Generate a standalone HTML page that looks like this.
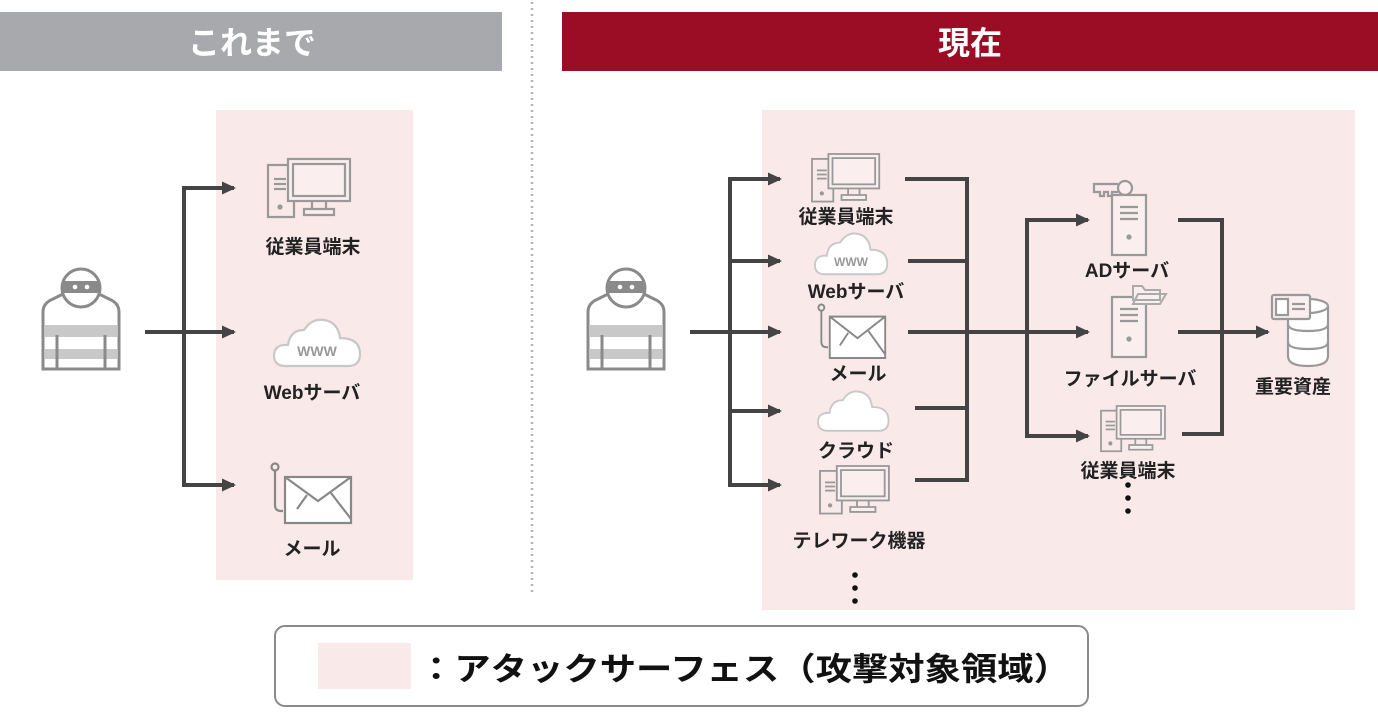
<!DOCTYPE html>
<html><head><meta charset="utf-8"><style>
html,body{margin:0;padding:0;background:#fff;}
svg{display:block;}
text{font-family:"Liberation Sans","Noto Sans CJK JP",sans-serif;font-weight:bold;}
</style></head><body>
<svg width="1378" height="713" viewBox="0 0 1378 713" xmlns="http://www.w3.org/2000/svg">
<defs>
<marker id="ah" markerWidth="16" markerHeight="16" refX="13" refY="8" orient="auto" markerUnits="userSpaceOnUse">
<path d="M1,1.5 L15,8 L1,14.5 Z" fill="#444"/></marker>
<g id="thief" fill="none" stroke="#8a8a8a" stroke-width="3">
<path d="M0,102 V45 Q0,36 10,32 L26,24 H50 L66,32 Q76,36 76,45 V102 Z" fill="#fff"/>
<rect x="2" y="58" width="72" height="12" fill="#c8c8c8" stroke="none"/>
<rect x="2" y="82" width="72" height="10" fill="#c8c8c8" stroke="none"/>
<line x1="14" y1="68" x2="14" y2="102"/><line x1="62" y1="68" x2="62" y2="102"/>
<circle cx="38" cy="21" r="19" fill="#fff"/>
<path d="M20,14 H56 V26 H20 Z" fill="#8a8a8a" stroke="none"/>
<circle cx="32" cy="20" r="2.3" fill="#fff" stroke="none"/><circle cx="44" cy="20" r="2.3" fill="#fff" stroke="none"/>
</g>
<g id="pc" fill="none" stroke="#999" stroke-width="2.2">
<rect x="0" y="6" width="26" height="52"/>
<line x1="6" y1="20" x2="18" y2="20"/><line x1="6" y1="25" x2="18" y2="25"/><line x1="6" y1="30" x2="18" y2="30"/>
<circle cx="12" cy="48" r="1.5" fill="#999"/>
<rect x="20" y="0" width="62" height="42" fill="#fbeeee"/>
<rect x="25" y="5" width="52" height="32"/>
<path d="M44,42 V50 M58,42 V50 M36,56 V50 H66 V56 Z" fill="#fbeeee"/>
</g>
<g id="cloud" fill="#fff" stroke="#c8c8c8" stroke-width="2.2">
<path d="M12,48 Q0,48 0,38 Q0,26 14,27 Q16,12 30,12 Q38,0 50,2 Q64,4 66,20 Q86,20 86,36 Q86,48 74,48 Z"/>
</g>
<g id="mail" fill="none" stroke="#888" stroke-width="2.2">
<circle cx="4" cy="4" r="3.5"/>
<path d="M4,8 V42 Q4,48 10,48 H12" />
<rect x="14" y="14" width="66" height="46" fill="#fff"/>
<path d="M14,14 L47,38 L80,14 M60,30 L80,56 M36,32 L26,46"/>
</g>
<g id="server" fill="none" stroke="#999" stroke-width="2.2">
<rect x="0" y="0" width="34" height="60" fill="#fbeeee"/>
<line x1="8" y1="12" x2="26" y2="12"/><line x1="8" y1="18" x2="26" y2="18"/><line x1="8" y1="24" x2="26" y2="24"/>
<circle cx="17" cy="42" r="1.5" fill="#999"/>
</g>
</defs>

<rect x="0" y="12" width="502" height="59" fill="#a7a9ac"/>
<text x="252" y="54" font-size="32" fill="#fff" text-anchor="middle">これまで</text>
<rect x="562" y="12" width="816" height="59" fill="#9b0d24"/>
<text x="970" y="54" font-size="32" fill="#fff" text-anchor="middle">現在</text>
<line x1="532" y1="2" x2="532" y2="592" stroke="#b5b5b5" stroke-width="2.5" stroke-dasharray="2,4"/>

<rect x="216" y="110" width="197" height="470" fill="#f9e9e9"/>
<rect x="762" y="110" width="593" height="500" fill="#f9e9e9"/>

<use href="#thief" x="43" y="267"/>
<g stroke="#444" stroke-width="4" fill="none">
<line x1="145" y1="332" x2="234" y2="332" marker-end="url(#ah)"/>
<path d="M234,188 H184 V485 H234" marker-end="url(#ah)"/>
<line x1="184" y1="188" x2="234" y2="188" marker-end="url(#ah)"/>
</g>
<use href="#pc" x="268" y="159"/>
<text x="313" y="253" font-size="19" fill="#222" text-anchor="middle">従業員端末</text>
<use href="#cloud" x="274" y="318"/>
<text x="317" y="356" font-size="14" fill="#999" text-anchor="middle">WWW</text>
<text x="312" y="399" font-size="19" fill="#222" text-anchor="middle">Webサーバ</text>
<use href="#mail" x="271" y="463"/>
<text x="312" y="555" font-size="19" fill="#222" text-anchor="middle">メール</text>

<use href="#thief" x="588" y="267"/>
<g stroke="#444" stroke-width="4" fill="none">
<line x1="690" y1="332" x2="780" y2="332" marker-end="url(#ah)"/>
<path d="M780,179 H730 V485 H780" marker-end="url(#ah)"/>
<line x1="730" y1="179" x2="780" y2="179" marker-end="url(#ah)"/>
<line x1="730" y1="261" x2="780" y2="261" marker-end="url(#ah)"/>
<line x1="730" y1="411" x2="780" y2="411" marker-end="url(#ah)"/>
<path d="M905,179 H967 V480 H915"/>
<line x1="908" y1="261" x2="967" y2="261"/>
<line x1="915" y1="408" x2="967" y2="408"/>
<line x1="908" y1="332" x2="1088" y2="332" marker-end="url(#ah)"/>
<path d="M1088,220 H1027 V436 H1088" marker-end="url(#ah)"/>
<line x1="1027" y1="220" x2="1088" y2="220" marker-end="url(#ah)"/>
<path d="M1178,220 H1222 V434 H1182"/>
<line x1="1178" y1="332" x2="1268" y2="332" marker-end="url(#ah)"/>
</g>
<g transform="translate(812,154) scale(0.82)"><use href="#pc"/></g>
<text x="846" y="223" font-size="19" fill="#222" text-anchor="middle">従業員端末</text>
<g transform="translate(815,232) scale(0.84,0.88)"><use href="#cloud"/></g>
<text x="851" y="266" font-size="12" fill="#999" text-anchor="middle">WWW</text>
<text x="856" y="298" font-size="19" fill="#222" text-anchor="middle">Webサーバ</text>
<g transform="translate(818,304) scale(0.84,0.9)"><use href="#mail"/></g>
<text x="858" y="380" font-size="19" fill="#222" text-anchor="middle">メール</text>
<g transform="translate(818,390) scale(0.82,0.85)"><use href="#cloud"/></g>
<text x="856" y="457" font-size="19" fill="#222" text-anchor="middle">クラウド</text>
<g transform="translate(820,466) scale(0.84,0.82)"><use href="#pc"/></g>
<text x="859" y="547" font-size="19" fill="#222" text-anchor="middle">テレワーク機器</text>
<g fill="#111"><circle cx="855" cy="575" r="2.8"/><circle cx="855" cy="588" r="2.8"/><circle cx="855" cy="601" r="2.8"/></g>

<g fill="none" stroke="#999" stroke-width="2.2">
<circle cx="1125" cy="188" r="7" fill="#fbeeee"/>
<path d="M1118,184 H1094 V192 H1100 V196 H1104 V192 H1108 V196 H1112 V192 H1118"/>
</g>
<use href="#server" x="1112" y="195"/>
<text x="1127" y="277" font-size="19" fill="#222" text-anchor="middle">ADサーバ</text>
<use href="#server" x="1112" y="297"/>
<path d="M1133,300 V286 H1142 L1145,290 H1160 V300 Z M1133,304 L1138,294 H1166 L1160,304 Z" fill="#fbeeee" stroke="#aaa" stroke-width="2"/>
<text x="1130" y="385" font-size="19" fill="#222" text-anchor="middle">ファイルサーバ</text>
<g transform="translate(1101,406) scale(0.78,0.78)"><use href="#pc"/></g>
<text x="1128" y="477" font-size="19" fill="#222" text-anchor="middle">従業員端末</text>
<g fill="#111"><circle cx="1128" cy="485" r="2.8"/><circle cx="1128" cy="498" r="2.8"/><circle cx="1128" cy="511" r="2.8"/></g>

<g fill="#fff" stroke="#999" stroke-width="2.2">
<path d="M1288,306 V356 Q1288,366 1308,366 Q1328,366 1328,356 V306"/>
<ellipse cx="1308" cy="306" rx="20" ry="7"/>
<path d="M1288,324 Q1288,331 1308,331 Q1328,331 1328,324 M1288,342 Q1288,349 1308,349 Q1328,349 1328,342" fill="none"/>
<rect x="1272" y="295" width="38" height="24" rx="2" fill="#fbeeee"/>
<rect x="1276" y="299" width="12" height="16" fill="#fff"/>
<line x1="1292" y1="304" x2="1305" y2="304"/><line x1="1292" y1="309" x2="1305" y2="309"/>
</g>
<text x="1293" y="393" font-size="19" fill="#222" text-anchor="middle">重要資産</text>

<rect x="275" y="626" width="813" height="80" rx="10" fill="#fff" stroke="#8a8a8a" stroke-width="2"/>
<rect x="318" y="643" width="93" height="46" fill="#f9e9e9"/>
<text x="418" y="680" font-size="32" fill="#111" textLength="652" lengthAdjust="spacingAndGlyphs">：アタックサーフェス（攻撃対象領域）</text>
</svg>
</body></html>
